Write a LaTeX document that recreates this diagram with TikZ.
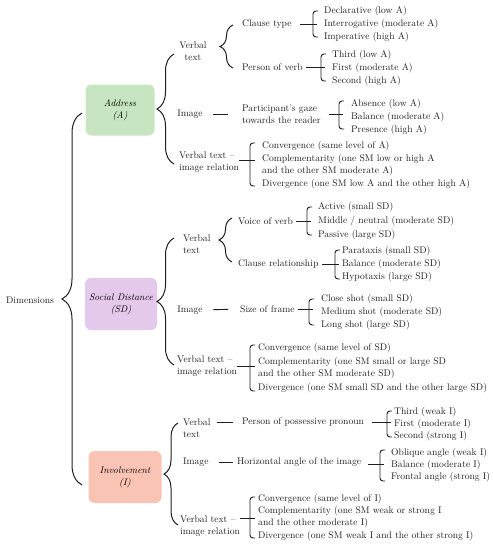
\documentclass[tikz,border=0pt]{standalone}
\usepackage{tikz}
\usetikzlibrary{decorations.pathreplacing}
\definecolor{DimGreen}{RGB}{200,229,193}
\definecolor{DimPurple}{RGB}{229,201,236}
\definecolor{DimSalmon}{RGB}{250,196,180}
\definecolor{DimInk}{RGB}{30,30,30}

\begin{document}
\begin{tikzpicture}[x=1pt, y=-1pt, font=\fontsize{9.6}{12}\selectfont,
    txt/.style={inner sep=0pt, align=left, text=DimInk},
    leaf/.style={txt, anchor=west},
    dimbox/.style={rounded corners=6pt, inner sep=0pt, align=center,
                   font=\fontsize{9.6}{12}\selectfont\itshape},
    curly/.style={decorate, decoration={brace, amplitude=#1}, line width=1pt, DimInk},
    hook/.style={rounded corners=3pt, line width=0.9pt, DimInk},
    link/.style={line width=0.9pt, DimInk}]
  \useasboundingbox (0,0) rectangle (493,550);

  % ---- Root ----
  \node[txt] (dims) at (30,300) {Dimensions};
  \draw[curly=20] (82,485) -- (82,113);

  % ---- Address ----
  \node[dimbox, fill=DimGreen, minimum width=69pt, minimum height=51pt] (addr) at (120,110) {Address\\(A)};
  \draw[curly=17] (174,164) -- (174,54);
  \node[txt, align=center] (averb) at (193,51) {Verbal\\text};
  \node[txt] (aimg) at (190,114) {Image};
  \node[leaf] (arel) at (179,162) {Verbal text --\\image relation};
  \draw[curly=13] (233,68) -- (233,25);
  \node[leaf] (act) at (242,24) {Clause type};
  \node[leaf] (apv) at (242,67) {Person of verb};
  \node[leaf] (apg) at (242,114) {Participant's gaze\\towards the reader};
  \foreach \y/\t [count=\i] in {11/Declarative (low A), 24/Interrogative (moderate A),
                                37/Imperative (high A)}
    \node[leaf] (act\i) at (324,\y) {\t};
  \foreach \y/\t [count=\i] in {55/Third (low A), 68/First (moderate A), 81/Second (high A)}
    \node[leaf] (apv\i) at (332,\y) {\t};
  \foreach \y/\t [count=\i] in {104/Absence (low A), 117/Balance (moderate A),
                                130/Presence (high A)}
    \node[leaf] (apg\i) at (351,\y) {\t};
  \foreach \y/\t [count=\i] in {146/Convergence (same level of A),
      165/{Complementarity (one SM low or high A\\and the other SM moderate A)},
      184/Divergence (one SM low A and the other high A)}
    \node[leaf] (arel\i) at (262,\y) {\t};

  % ---- Social Distance ----
  \node[dimbox, fill=DimPurple, minimum width=72pt, minimum height=52pt] (sdist) at (121,304) {Social Distance\\(SD)};
  \draw[curly=17] (174,365) -- (174,238);
  \node[leaf] (sdverb) at (183,244) {Verbal\\text};
  \node[txt] (sdimg) at (190,310) {Image};
  \node[leaf] (sdrel) at (177,366) {Verbal text --\\image relation};
  \draw[curly=13] (232,262) -- (232,218);
  \node[leaf] (sdvv) at (238,221) {Voice of verb};
  \node[leaf] (sdcr) at (238,264) {Clause relationship};
  \node[leaf] (sdsf) at (240,309) {Size of frame};
  \foreach \y/\t [count=\i] in {207/Active (small SD), 221/{Middle / neutral (moderate SD)},
                                235/Passive (large SD)}
    \node[leaf] (sdvv\i) at (318,\y) {\t};
  \foreach \y/\t [count=\i] in {251/Parataxis (small SD), 264/Balance (moderate SD),
                                277/Hypotaxis (large SD)}
    \node[leaf] (sdcr\i) at (342,\y) {\t};
  \foreach \y/\t [count=\i] in {299/Close shot (small SD), 312/Medium shot (moderate SD),
                                325/Long shot (large SD)}
    \node[leaf] (sdsf\i) at (321,\y) {\t};
  \foreach \y/\t [count=\i] in {348/Convergence (same level of SD),
      368/{Complementarity (one SM small or large SD\\and the other SM moderate SD)},
      388/Divergence (one SM small SD and the other large SD)}
    \node[leaf] (sdrel\i) at (258,\y) {\t};

  % ---- Involvement ----
  \node[dimbox, fill=DimSalmon, minimum width=73pt, minimum height=52pt] (invol) at (125,477) {Involvement\\(I)};
  \draw[curly=14] (178,525) -- (178,423);
  \node[leaf] (iverb) at (183,428) {Verbal\\text};
  \node[leaf] (iimg) at (183,462) {Image};
  \node[leaf] (irel) at (180,526) {Verbal text --\\image relation};
  \node[leaf] (ipp) at (242,422) {Person of possessive pronoun};
  \node[leaf] (iha) at (237,462) {Horizontal angle of the image};
  \foreach \y/\t [count=\i] in {412/Third (weak I), 424/First (moderate I), 436/Second (strong I)}
    \node[leaf] (ipp\i) at (394,\y) {\t};
  \foreach \y/\t [count=\i] in {453/Oblique angle (weak I), 465/Balance (moderate I),
                                477/Frontal angle (strong I)}
    \node[leaf] (iha\i) at (391,\y) {\t};
  \foreach \y/\t [count=\i] in {499/Convergence (same level of I),
      517/{Complementarity (one SM weak or strong I\\and the other moderate I)},
      536/Divergence (one SM weak I and the other strong I)}
    \node[leaf] (irel\i) at (258,\y) {\t};

  % small brackets
  \foreach \x/\t/\b in {313/11/37, 321/54/81, 339/101/129, 250/143/186,
                        307/207/235, 335/250/279, 309/299/325, 250/345/391,
                        387/411/437, 380/450/481, 250/497/538}
    \draw[hook] (\x+5,\t) -- (\x,\t) -- (\x,\b) -- (\x+5,\b);

  % bracket joints
  \coordinate (actb) at (317,24);
  \coordinate (apvb) at (325,67);
  \coordinate (apgb) at (343,114);
  \coordinate (arelb) at (255,160);
  \coordinate (sdvvb) at (311,221);
  \coordinate (sdcrb) at (339,264);
  \coordinate (sdsfb) at (313,309);
  \coordinate (sdrelb) at (255,366);
  \coordinate (ippb) at (391,422);
  \coordinate (ihab) at (384,464);
  \coordinate (irelb) at (255,518);

  % connectors
  \draw[link, shorten <=8pt] (act.east) -- (actb);
  \draw[link, shorten <=3pt] (apv.east) -- (apvb);
  \draw[link, shorten <=8pt] (apg.east) -- (apgb);
  \draw[link] (arelb -| arel.east) -- (arelb);
  \draw[link, shorten <=10pt, shorten >=14pt] (aimg.east) -- (apg.west);
  \draw[link, shorten <=3pt] (sdvv.east) -- (sdvvb);
  \draw[link, shorten <=3pt] (sdcr.east) -- (sdcrb);
  \draw[link, shorten <=3pt] (sdsf.east) -- (sdsfb);
  \draw[link] (sdrelb -| sdrel.east) -- (sdrelb);
  \draw[link, shorten <=10pt, shorten >=12pt] (sdimg.east) -- (sdsf.west);
  \draw[link, shorten <=6pt, shorten >=9pt] (ipp.west -| iverb.east) -- (ipp.west);
  \draw[link, shorten <=10pt, shorten >=4pt] (iimg.east) -- (iha.west);
  \draw[link, shorten <=8pt] (ipp.east) -- (ippb);
  \draw[link, shorten <=7pt] (ihab -| iha.east) -- (ihab);
  \draw[link] (irelb -| irel.east) -- (irelb);
\end{tikzpicture}
\end{document}
